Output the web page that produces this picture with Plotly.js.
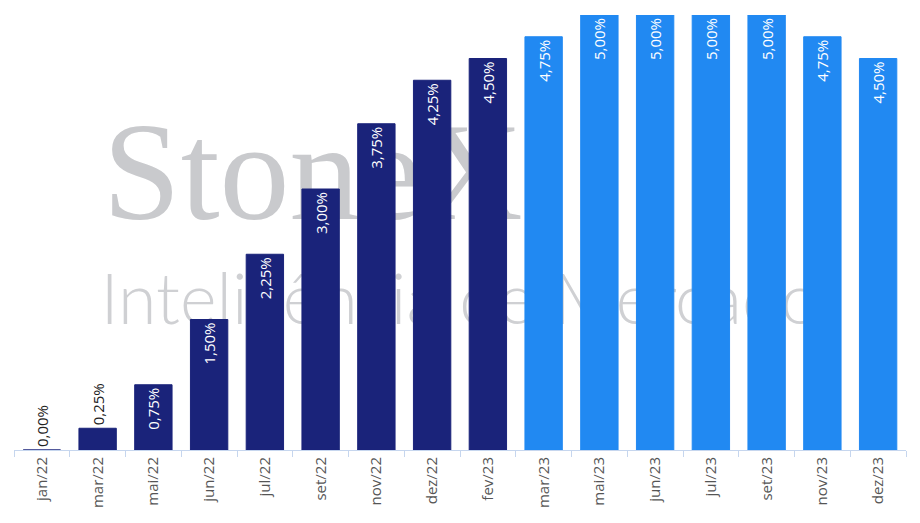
<!DOCTYPE html>
<html>
<head>
<meta charset="utf-8">
<script src="https://cdn.plot.ly/plotly-3.0.1.min.js"></script>
<style>html,body{margin:0;padding:0;background:#fff}#chart{width:920px;height:523px}</style>
</head>
<body>
<div id="chart"></div>
<script>
const categories = ["jan/22","mar/22","mai/22","jun/22","jul/22","set/22","nov/22","dez/22","fev/23","mar/23","mai/23","jun/23","jul/23","set/23","nov/23","dez/23"];
const rates = [0.00,0.25,0.75,1.50,2.25,3.00,3.75,4.25,4.50,4.75,5.00,5.00,5.00,5.00,4.75,4.50];
const lastRealized = "fev/23";

const NAVY = "#1a237a", BLUE = "#2189f2";
const cut = categories.indexOf(lastRealized);
const colors = categories.map((c,i) => i <= cut ? NAVY : BLUE);
const labels = rates.map(v => v.toFixed(2).replace('.', ',') + '%');
const positions = rates.map(v => v < 0.5 ? 'outside' : 'inside');

const trace = {
  type: 'bar',
  x: categories,
  y: rates,
  marker: {color: colors, line: {color: colors, width: 1}},
  text: labels,
  textposition: positions,
  textangle: -90,
  insidetextanchor: 'end',
  constraintext: 'none',
  insidetextfont: {family: 'Open Sans', size: 15, color: '#ffffff'},
  outsidetextfont: {family: 'Open Sans', size: 15, color: '#222222'},
  cliponaxis: false,
  hoverinfo: 'skip'
};

const layout = {
  width: 920, height: 523,
  margin: {l: 14, r: 14, t: 15, b: 73},
  paper_bgcolor: '#ffffff', plot_bgcolor: '#ffffff',
  bargap: 0.33,
  showlegend: false,
  xaxis: {
    type: 'category',
    showline: true, linecolor: '#c6d6ee', linewidth: 1,
    ticks: 'outside', tickson: 'boundaries', ticklen: 6, tickcolor: '#c6d6ee',
    tickangle: -90,
    tickfont: {family: 'Open Sans', size: 15, color: '#555555'},
    showgrid: false, zeroline: false
  },
  yaxis: {range: [0, 5], visible: false, showgrid: false, zeroline: false},
  shapes: [
    {type: 'rect', xref: 'paper', yref: 'paper', x0: 0.10, x1: 0.57, y0: 0.535, y1: 0.815,
     layer: 'below', line: {width: 0}, fillcolor: 'rgba(0,0,0,0)',
     label: {text: 'StoneX', textposition: 'middle center',
             font: {family: 'Liberation Serif', size: 140, color: '#c9cacd'}}},
    {type: 'rect', xref: 'paper', yref: 'paper', x0: 0.05, x1: 0.95, y0: 0.255, y1: 0.455,
     layer: 'below', line: {width: 0}, fillcolor: 'rgba(0,0,0,0)',
     label: {text: 'Inteligência de Mercado', textposition: 'middle center',
             font: {family: 'Lato', size: 70, color: '#cfd0d3', weight: 300}}}
  ]
};

Plotly.newPlot('chart', [trace], layout, {displayModeBar: false, staticPlot: true});
</script>
</body>
</html>
